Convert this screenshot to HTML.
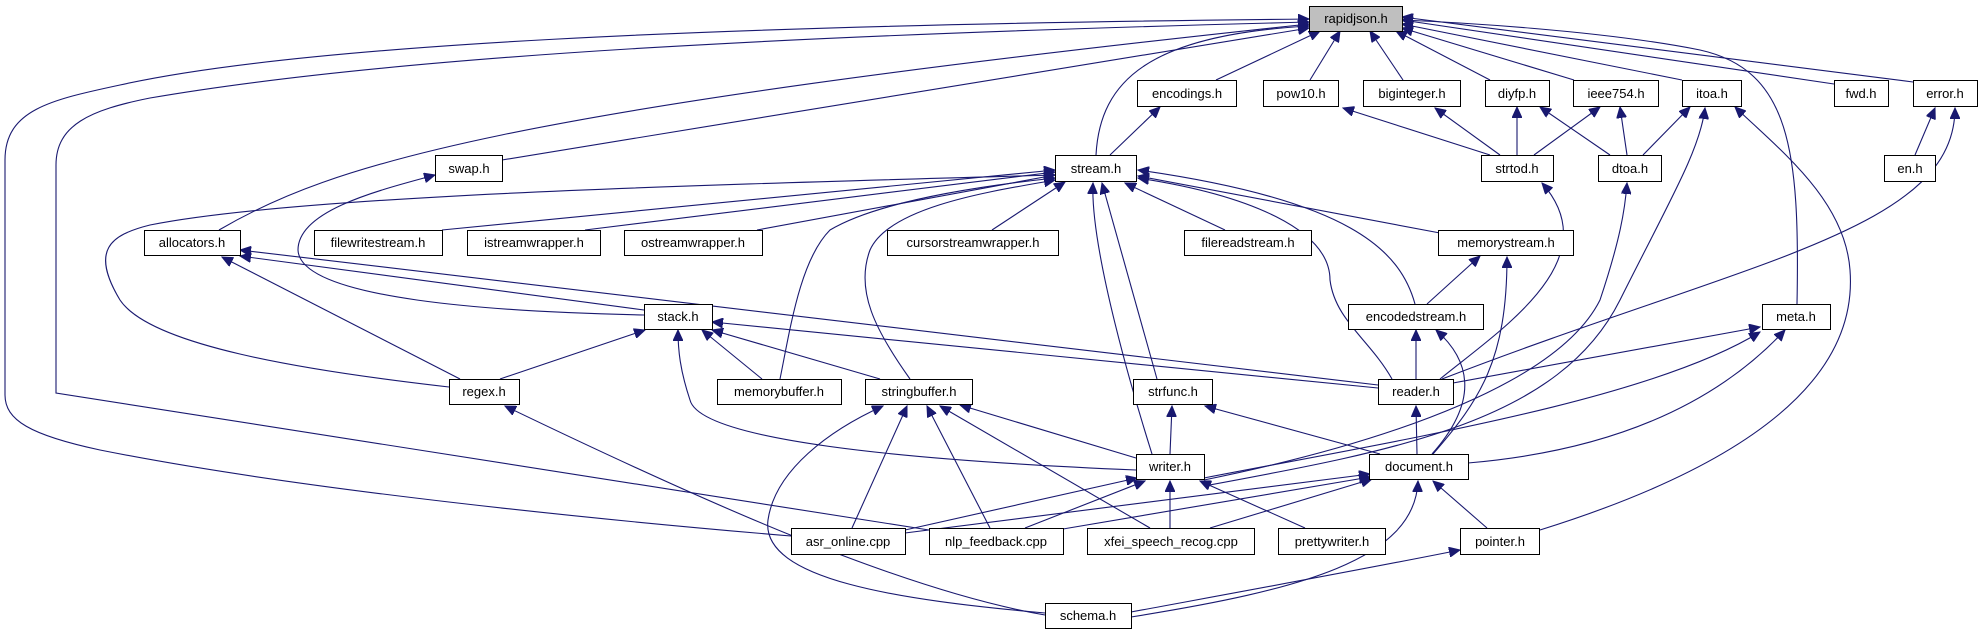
<!DOCTYPE html>
<html><head><meta charset="utf-8"><style>
html,body{margin:0;padding:0;background:#fff;}
svg{display:block;}
text{font-family:"Liberation Sans",sans-serif;font-size:13px;fill:#000;}
</style></head><body>
<svg width="1983" height="635" viewBox="0 0 1983 635" xmlns="http://www.w3.org/2000/svg">
<defs>
<marker id="a" markerUnits="userSpaceOnUse" markerWidth="12" markerHeight="10" refX="11" refY="5" orient="auto">
<path d="M0,0 L11,5 L0,10 Z" fill="#191970" stroke="#191970"/>
</marker>
</defs>
<g fill="none" stroke="#191970" stroke-width="1.1" marker-end="url(#a)">
<path d="M1216,80 L1320,31"/>
<path d="M1310,80 L1340,31"/>
<path d="M1403,80 L1370,31"/>
<path d="M1490,80 L1396,31"/>
<path d="M1574,80 L1402,28"/>
<path d="M1682,80 L1402,24"/>
<path d="M1834,84 L1402,20"/>
<path d="M1913,82 L1402,17"/>
<path d="M1797,304 C1800,150 1790,70 1700,50 C1600,30 1450,22 1402,20"/>
<path d="M1096,155 C1100,80 1150,35 1309,26"/>
<path d="M502,160 L1309,28"/>
<path d="M219,230 C330,165 500,110 1309,24"/>
<path d="M791,536 C600,520 300,490 100,450 C30,435 5,420 5,395 L5,160 C5,110 50,100 120,85 C300,45 700,25 1309,19"/>
<path d="M929,530 L56,393 L56,165 C56,125 90,110 150,98 C400,55 800,35 1309,22"/>
<path d="M1110,155 L1160,107"/>
<path d="M1490,155 L1343,108"/>
<path d="M1500,155 L1435,108"/>
<path d="M1517,155 L1517,107"/>
<path d="M1610,155 L1540,107"/>
<path d="M1534,155 L1600,107"/>
<path d="M1627,155 L1620,107"/>
<path d="M1643,155 L1690,107"/>
<path d="M1204,486 C1400,450 1560,420 1620,300 C1670,200 1700,150 1705,108"/>
<path d="M1540,530 C1700,480 1860,400 1850,270 C1845,200 1780,150 1735,107"/>
<path d="M1915,155 L1935,108"/>
<path d="M1442,379 C1750,260 1955,230 1955,108"/>
<path d="M1440,379 C1500,330 1610,260 1542,183"/>
<path d="M1204,480 C1400,440 1560,380 1600,300 C1620,240 1625,210 1627,183"/>
<path d="M442,230 L1055,170"/>
<path d="M585,230 L1055,172"/>
<path d="M757,230 L1055,175"/>
<path d="M992,230 L1065,182"/>
<path d="M1225,230 L1125,183"/>
<path d="M1440,233 L1138,176"/>
<path d="M1415,304 C1400,250 1350,200 1138,170"/>
<path d="M1392,379 C1370,340 1335,320 1330,280 C1330,230 1250,195 1138,178"/>
<path d="M1157,379 L1102,183"/>
<path d="M1152,454 C1135,400 1090,250 1093,183"/>
<path d="M910,379 C875,330 855,290 870,250 C890,205 1000,190 1055,180"/>
<path d="M780,379 C790,330 800,260 830,230 C880,200 990,185 1055,178"/>
<path d="M449,387 C300,370 150,345 120,300 C90,250 110,235 150,225 C300,195 700,185 1055,175"/>
<path d="M644,315 C500,312 300,300 298,250 C298,210 380,190 435,175"/>
<path d="M644,310 L240,256"/>
<path d="M1378,385 L240,250"/>
<path d="M460,379 L222,257"/>
<path d="M500,379 L645,330"/>
<path d="M762,379 L702,330"/>
<path d="M880,379 L712,330"/>
<path d="M1378,388 L712,322"/>
<path d="M1136,470 C900,460 700,440 690,400 C680,370 678,350 678,330"/>
<path d="M1427,304 L1480,256"/>
<path d="M1433,454 C1480,400 1507,360 1507,257"/>
<path d="M1416,379 L1416,330"/>
<path d="M1432,454 C1480,400 1470,360 1436,330"/>
<path d="M1453,383 L1760,327"/>
<path d="M1204,478 C1400,440 1650,400 1760,332"/>
<path d="M1468,463 C1620,450 1720,400 1785,330"/>
<path d="M1170,454 L1172,406"/>
<path d="M1380,454 L1205,406"/>
<path d="M1417,454 L1416,406"/>
<path d="M1136,458 L960,405"/>
<path d="M852,528 L907,406"/>
<path d="M990,528 L927,406"/>
<path d="M1150,528 L940,406"/>
<path d="M1045,613 C900,600 760,580 768,520 C775,470 830,430 883,406"/>
<path d="M905,530 L1137,478"/>
<path d="M1025,528 L1145,481"/>
<path d="M1170,528 L1170,481"/>
<path d="M1305,528 L1200,481"/>
<path d="M905,533 L1370,474"/>
<path d="M1063,529 L1370,477"/>
<path d="M1210,528 L1372,479"/>
<path d="M1487,528 L1433,481"/>
<path d="M1131,617 C1300,590 1415,560 1418,481"/>
<path d="M1131,612 C1250,590 1360,570 1460,550"/>
<path d="M1045,615 C900,590 700,500 505,406"/>
</g>
<g stroke="#000" stroke-width="1" fill="#fff">
<rect x="1309.5" y="6.5" width="93" height="25" fill="#bfbfbf"/>
<rect x="1137.5" y="80.5" width="99" height="26"/>
<rect x="1263.5" y="80.5" width="75" height="26"/>
<rect x="1363.5" y="80.5" width="97" height="26"/>
<rect x="1485.5" y="80.5" width="64" height="26"/>
<rect x="1573.5" y="80.5" width="85" height="26"/>
<rect x="1682.5" y="80.5" width="59" height="26"/>
<rect x="1834.5" y="80.5" width="54" height="26"/>
<rect x="1913.5" y="80.5" width="64" height="26"/>
<rect x="435.5" y="155.5" width="67" height="26"/>
<rect x="1055.5" y="155.5" width="81" height="26"/>
<rect x="1481.5" y="155.5" width="72" height="26"/>
<rect x="1598.5" y="155.5" width="63" height="26"/>
<rect x="1884.5" y="155.5" width="51" height="26"/>
<rect x="144.5" y="230.5" width="96" height="25"/>
<rect x="314.5" y="230.5" width="128" height="25"/>
<rect x="467.5" y="230.5" width="133" height="25"/>
<rect x="624.5" y="230.5" width="138" height="25"/>
<rect x="887.5" y="230.5" width="171" height="25"/>
<rect x="1184.5" y="230.5" width="127" height="25"/>
<rect x="1438.5" y="230.5" width="135" height="25"/>
<rect x="644.5" y="304.5" width="68" height="25"/>
<rect x="1348.5" y="304.5" width="135" height="25"/>
<rect x="1762.5" y="304.5" width="68" height="25"/>
<rect x="449.5" y="379.5" width="70" height="25"/>
<rect x="717.5" y="379.5" width="124" height="25"/>
<rect x="865.5" y="379.5" width="107" height="25"/>
<rect x="1133.5" y="379.5" width="79" height="25"/>
<rect x="1378.5" y="379.5" width="75" height="25"/>
<rect x="1136.5" y="454.5" width="68" height="25"/>
<rect x="1369.5" y="454.5" width="99" height="25"/>
<rect x="791.5" y="528.5" width="114" height="26"/>
<rect x="929.5" y="528.5" width="134" height="26"/>
<rect x="1087.5" y="528.5" width="167" height="26"/>
<rect x="1278.5" y="528.5" width="107" height="26"/>
<rect x="1460.5" y="528.5" width="79" height="26"/>
<rect x="1045.5" y="603.5" width="86" height="25"/>
</g>
<g text-anchor="middle">
<text x="1356" y="23">rapidjson.h</text>
<text x="1187" y="98">encodings.h</text>
<text x="1301" y="98">pow10.h</text>
<text x="1412" y="98">biginteger.h</text>
<text x="1517" y="98">diyfp.h</text>
<text x="1616" y="98">ieee754.h</text>
<text x="1712" y="98">itoa.h</text>
<text x="1861" y="98">fwd.h</text>
<text x="1945" y="98">error.h</text>
<text x="469" y="173">swap.h</text>
<text x="1096" y="173">stream.h</text>
<text x="1517" y="173">strtod.h</text>
<text x="1630" y="173">dtoa.h</text>
<text x="1910" y="173">en.h</text>
<text x="192" y="247">allocators.h</text>
<text x="378" y="247">filewritestream.h</text>
<text x="534" y="247">istreamwrapper.h</text>
<text x="693" y="247">ostreamwrapper.h</text>
<text x="973" y="247">cursorstreamwrapper.h</text>
<text x="1248" y="247">filereadstream.h</text>
<text x="1506" y="247">memorystream.h</text>
<text x="678" y="321">stack.h</text>
<text x="1416" y="321">encodedstream.h</text>
<text x="1796" y="321">meta.h</text>
<text x="484" y="396">regex.h</text>
<text x="779" y="396">memorybuffer.h</text>
<text x="919" y="396">stringbuffer.h</text>
<text x="1173" y="396">strfunc.h</text>
<text x="1416" y="396">reader.h</text>
<text x="1170" y="471">writer.h</text>
<text x="1419" y="471">document.h</text>
<text x="848" y="546">asr_online.cpp</text>
<text x="996" y="546">nlp_feedback.cpp</text>
<text x="1171" y="546">xfei_speech_recog.cpp</text>
<text x="1332" y="546">prettywriter.h</text>
<text x="1500" y="546">pointer.h</text>
<text x="1088" y="620">schema.h</text>
</g>
</svg>
</body></html>
